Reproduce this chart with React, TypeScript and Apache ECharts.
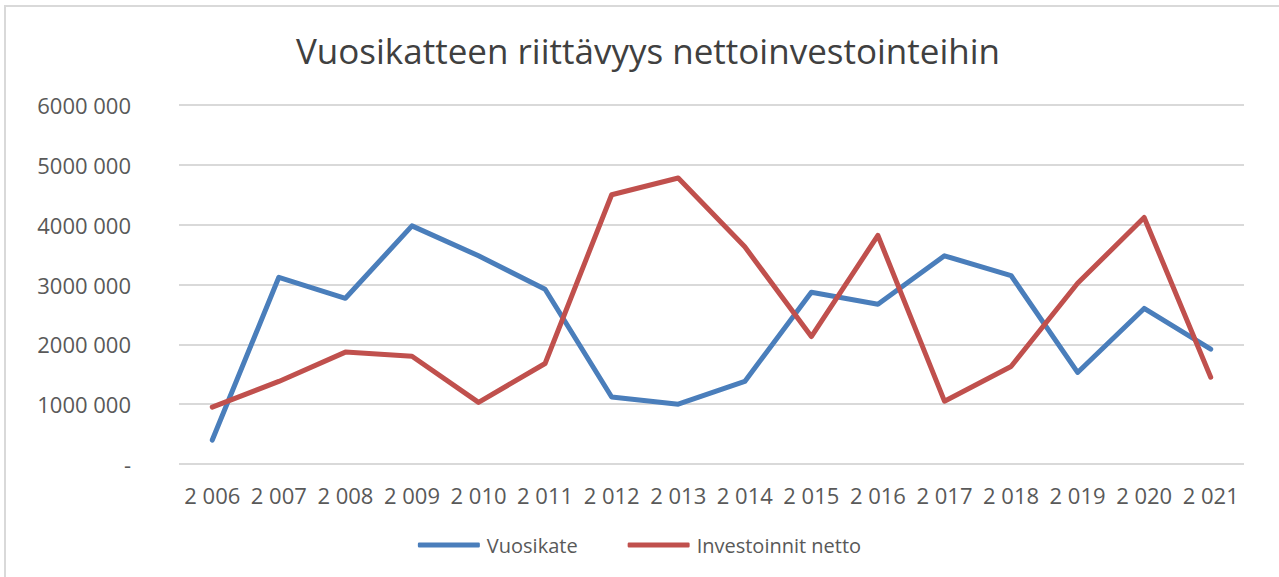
import React, { useEffect, useRef } from "react";
import * as echarts from "echarts";

const categories = ["2 006", "2 007", "2 008", "2 009", "2 010", "2 011", "2 012", "2 013", "2 014", "2 015", "2 016", "2 017", "2 018", "2 019", "2 020", "2 021"];
const vuosikate = [400000, 3120000, 2770000, 3980000, 3480000, 2920000, 1120000, 1000000, 1380000, 2870000, 2670000, 3480000, 3150000, 1530000, 2600000, 1920000];
const investoinnit = [950000, 1380000, 1870000, 1800000, 1030000, 1680000, 4500000, 4780000, 3630000, 2130000, 3820000, 1050000, 1630000, 3020000, 4120000, 1450000];

const FONT = "'Open Sans', 'Noto Sans', sans-serif";

export default function App() {
  const ref = useRef<HTMLDivElement>(null);
  useEffect(() => {
    if (!ref.current) return;
    const chart = echarts.init(ref.current, undefined, { renderer: "svg" });
    chart.setOption({
      animation: false,
      backgroundColor: "#ffffff",
      textStyle: { fontFamily: FONT },
      title: {
        text: "Vuosikatteen riittävyys nettoinvestointeihin",
        left: 643,
        textAlign: "center",
        top: 28,
        textStyle: { fontFamily: FONT, fontSize: 35, fontWeight: "normal", color: "#404040" },
      },
      graphic: [
        {
          type: "rect",
          shape: { x: 5, y: 6, width: 1300, height: 600 },
          style: { fill: "none", stroke: "#d9d9d9", lineWidth: 2 },
          silent: true,
        },
      ],
      legend: {
        bottom: 17,
        left: "center",
        itemGap: 50,
        itemWidth: 62,
        itemHeight: 5,
        icon: "roundRect",
        textStyle: { fontFamily: FONT, fontSize: 20, color: "#595959", padding: [0, 0, 0, 2] },
        data: ["Vuosikate", "Investoinnit netto"],
      },
      grid: { left: 179, right: 35, top: 105, bottom: 113, containLabel: false },
      xAxis: {
        type: "category",
        data: categories,
        boundaryGap: true,
        axisLine: { show: false },
        axisTick: { show: false },
        axisLabel: { fontFamily: FONT, fontSize: 22, color: "#595959", margin: 20, interval: 0 },
      },
      yAxis: {
        type: "value",
        min: 0,
        max: 6000000,
        interval: 1000000,
        axisLine: { show: false },
        axisTick: { show: false },
        splitLine: { lineStyle: { color: "#d9d9d9", width: 2 } },
        axisLabel: {
          fontFamily: FONT,
          fontSize: 22,
          color: "#595959",
          margin: 48,
          formatter: (v: number) => (v === 0 ? "-" : `${v / 1000} 000`),
        },
      },
      series: [
        {
          name: "Vuosikate",
          type: "line",
          data: vuosikate,
          symbol: "none",
          lineStyle: { width: 5, color: "#4a7ebb", cap: "round", join: "round" },
          itemStyle: { color: "#4a7ebb" },
        },
        {
          name: "Investoinnit netto",
          type: "line",
          data: investoinnit,
          symbol: "none",
          lineStyle: { width: 5, color: "#c0504d", cap: "round", join: "round" },
          itemStyle: { color: "#c0504d" },
        },
      ],
    });
    return () => chart.dispose();
  }, []);
  return <div ref={ref} style={{ position: "fixed", left: 0, top: 0, width: 1279, height: 577 }} />;
}
